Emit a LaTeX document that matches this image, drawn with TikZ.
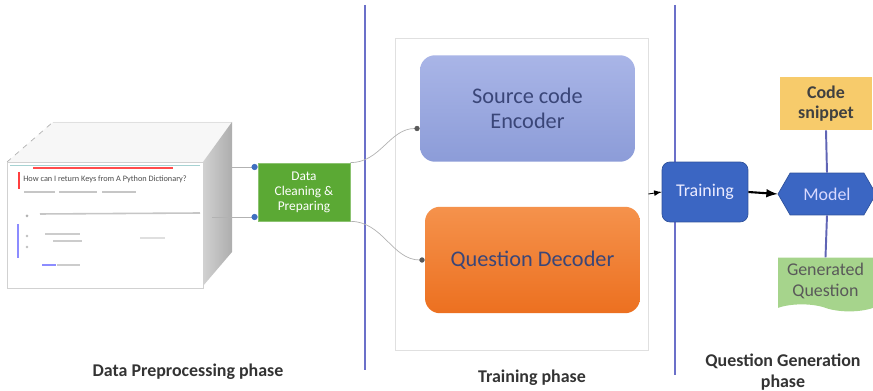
\documentclass[tikz,border=0pt]{standalone}
\usepackage{fontspec}
\setmainfont{Carlito}
\usepackage{tikz}
\usetikzlibrary{arrows,arrows.meta,shapes.symbols}

\definecolor{phaseline}{HTML}{6B70C9}
\definecolor{encdark}{HTML}{8C9CD8}
\definecolor{enclight}{HTML}{A9B5E7}
\definecolor{decdark}{HTML}{EC7020}
\definecolor{declight}{HTML}{F5924C}
\definecolor{prepgreen}{HTML}{5BA934}
\definecolor{runblue}{HTML}{3B66C3}
\definecolor{snipyellow}{HTML}{F7CB6B}
\definecolor{genqgreen}{HTML}{A6D48C}
\definecolor{boxtext}{HTML}{3A4678}
\definecolor{dotblue}{HTML}{3F6FC0}

\begin{document}
\begin{tikzpicture}[x=0.02cm,y=-0.02cm,
  phase/.style={font=\fontsize{10.2}{11.9}\selectfont\bfseries, text=black!80, align=center},
  block/.style={rounded corners=0.3cm, minimum width=4.3cm, minimum height=2.13cm,
    font=\fontsize{12.7}{14.2}\selectfont, text=boxtext, align=center},
  small/.style={font=\fontsize{10.2}{11.5}\selectfont, align=center},
  link/.style={draw=gray!60, line width=0.4pt},
  stem/.style={draw=phaseline!90!black, line width=1.1pt}]
  \useasboundingbox (0,0) rectangle (873,391);

  % phase separators
  \draw[phaseline, line width=0.8pt] (365,5) -- (365,370);
  \draw[phaseline, line width=0.8pt] (675,5) -- (675,375);

  % data set cube
  \fill[black!3] (7,162) -- (53,122) -- (232,122) -- (203,162) -- cycle;
  \draw[gray!60, dashed] (7,162) -- (53,122);
  \draw[black!12] (53,122) -- (232,122);
  \shade[left color=black!18, right color=black!32] (203,162) -- (232,122) -- (232,252) -- (203,286) -- cycle;
  \draw[black!18, fill=white] (7,162) rectangle (203,288);
  \draw[teal!35] (10,165) -- (200,165);
  \draw[red!70, line width=0.8pt] (33,168) -- (173,168);
  \draw[red!75, line width=1.3pt] (19,172) -- (19,189);
  \node[anchor=west, inner sep=0pt, font=\fontsize{4.7}{5}\selectfont, text=black!70] (qtitle) at (23,179)
    {How can I return Keys from A Python Dictionary?};
  \foreach \a/\b in {24/55, 59/97, 102/136}
    \draw[gray!45, line width=0.8pt] (\a,192) -- (\b,192);
  \fill[gray!60] (27,216) circle (1.5);
  \draw[gray!45, line width=0.9pt] (40,214) -- (200,213);
  \draw[blue!45, line width=0.8pt] (18,224) -- (18,258);
  \draw[gray!40, line width=0.8pt] (45,234) -- (80,234);
  \draw[gray!40, line width=0.8pt] (53,241) -- (82,241);
  \draw[gray!25, line width=0.8pt] (140,238) -- (165,238);
  \fill[gray!50] (27,236) circle (1.3);
  \fill[gray!50] (27,247) circle (1.3);
  \draw[blue!45, line width=1pt] (42,265) -- (56,265);
  \draw[gray!40, line width=0.8pt] (57,265) -- (80,265);
  \coordinate (cubeA) at (232,167);
  \coordinate (cubeB) at (212,217);

  \node[draw=prepgreen!70!white, fill=prepgreen, minimum width=1.84cm, minimum height=1.16cm,
    font=\fontsize{7.6}{8.5}\selectfont, text=white, align=center] (prep) at (304,192)
    {Data\\Cleaning \&\\Preparing};

  % training phase
  \node[draw=black!12, fill=white, minimum width=5.06cm, minimum height=6.24cm] (tbox) at (521.5,194) {};
  \node[block, top color=enclight, bottom color=encdark] (enc) at (527.5,108.5) {Source code\\Encoder};
  \node[block, top color=declight, bottom color=decdark] (dec) at (532.5,260) {Question Decoder};

  % question generation phase
  \node[draw=runblue!80!black, fill=runblue, rounded corners=0.16cm, minimum width=1.72cm,
    minimum height=1.2cm, small, text=blue!8] (train) at (705,192) {Training};
  \node[signal, signal to=west and east, signal pointer angle=120, draw=runblue!80!black,
    fill=runblue, minimum width=1.96cm, minimum height=0.84cm, small, text=blue!15] (model) at (827,194) {Model};
  \node[fill=snipyellow, minimum width=1.84cm, minimum height=1.06cm, small, font=\fontsize{10.2}{11.5}\selectfont\bfseries,
    text=black!75] (snip) at (826,103.5) {Code\\snippet};
  \node[tape, tape bend top=none, tape bend bottom=out and in, tape bend height=4pt, fill=genqgreen,
    minimum width=1.9cm, minimum height=0.96cm, small, text=black!65] (genq) at (825.5,281) {Generated\\Question};

  \draw[link, -{Circle[length=3.5pt, color=dotblue]}] (cubeA) -- (cubeA -| prep.west);
  \draw[link, -{Circle[length=3.5pt, color=dotblue]}] (cubeB) -- (cubeB -| prep.west);
  \draw[link, -{Circle[length=3pt, color=black!65]}] (prep.north east) to[out=0, in=180] ([yshift=-0.4cm]enc.west);
  \draw[link, -{Circle[length=3pt, color=black!65]}] (prep.south east) to[out=0, in=180] (dec.west);
  \draw[-latex, black, line width=0.5pt] (tbox.east) -- (train.west);
  \draw[-latex, black, line width=1.2pt] (train.east) -- (model.west);
  \draw[stem] (snip.south) -- (model.north);
  \draw[stem] (model.south) -- (genq.north);

  \node[phase] (lblprep) at (188,372) {Data Preprocessing phase};
  \node[phase] (lbltrain) at (532,378) {Training phase};
  \node[phase] (lblgen) at (783,372) {Question Generation\\phase};
\end{tikzpicture}
\end{document}
